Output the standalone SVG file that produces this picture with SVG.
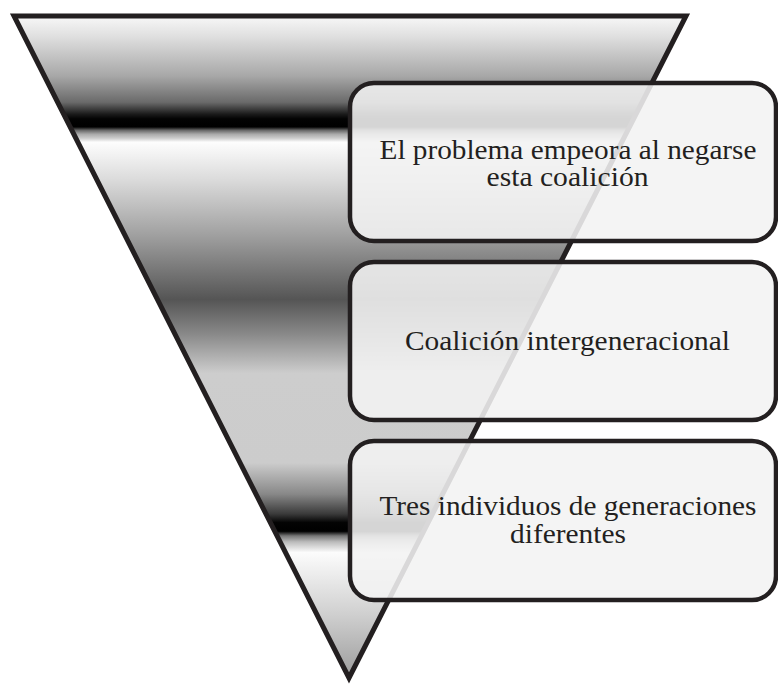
<svg xmlns="http://www.w3.org/2000/svg" width="778" height="684" viewBox="0 0 778 684">
<defs>
<linearGradient id="g" gradientUnits="userSpaceOnUse" x1="0" y1="16" x2="0" y2="680">
<stop offset="0" stop-color="#f8f8f8"/>
<stop offset="0.03" stop-color="#e0e0e0"/>
<stop offset="0.09" stop-color="#a8a8a8"/>
<stop offset="0.13" stop-color="#6a6a6a"/>
<stop offset="0.148" stop-color="#1a1a1a"/>
<stop offset="0.155" stop-color="#030303"/>
<stop offset="0.167" stop-color="#000"/>
<stop offset="0.172" stop-color="#666"/>
<stop offset="0.178" stop-color="#aaa"/>
<stop offset="0.184" stop-color="#ccc"/>
<stop offset="0.19" stop-color="#fdfdfd"/>
<stop offset="0.245" stop-color="#dcdcdc"/>
<stop offset="0.33" stop-color="#a0a0a0"/>
<stop offset="0.427" stop-color="#555"/>
<stop offset="0.48" stop-color="#8a8a8a"/>
<stop offset="0.538" stop-color="#cdcdcd"/>
<stop offset="0.673" stop-color="#cccccc"/>
<stop offset="0.72" stop-color="#888"/>
<stop offset="0.75" stop-color="#3a3a3a"/>
<stop offset="0.763" stop-color="#030303"/>
<stop offset="0.776" stop-color="#000"/>
<stop offset="0.783" stop-color="#777"/>
<stop offset="0.792" stop-color="#bbb"/>
<stop offset="0.808" stop-color="#fcfcfc"/>
<stop offset="0.9" stop-color="#d0d0d0"/>
<stop offset="1" stop-color="#9a9a9a"/>
</linearGradient>
<style>
.box{fill:#f2f2f2;fill-opacity:0.88;stroke:#231f20;stroke-width:4.5}
.t{font-family:"Liberation Serif","Times New Roman",serif;font-size:27px;fill:#231f20;text-anchor:middle}
</style>
</defs>
<g id="funnel">
<polygon points="14,16 686,16 349,678" fill="url(#g)" stroke="#231f20" stroke-width="5" stroke-linejoin="miter"/>
</g>
<g id="connectors"/>
<g id="node1">
<rect class="box" x="350" y="83" width="426" height="158" rx="24"/>
<text class="t" x="568" y="158.5" textLength="377" lengthAdjust="spacingAndGlyphs">El problema empeora al negarse</text>
<text class="t" x="567.5" y="185.5" textLength="162" lengthAdjust="spacingAndGlyphs">esta coalición</text>
</g>
<g id="node2">
<rect class="box" x="350" y="262" width="426" height="158" rx="24"/>
<text class="t" x="567.5" y="350" textLength="325" lengthAdjust="spacingAndGlyphs">Coalición intergeneracional</text>
</g>
<g id="node3">
<rect class="box" x="350" y="441" width="426" height="159" rx="24"/>
<text class="t" x="568" y="514.5" textLength="377" lengthAdjust="spacingAndGlyphs">Tres individuos de generaciones</text>
<text class="t" x="568" y="542.5" textLength="116" lengthAdjust="spacingAndGlyphs">diferentes</text>
</g>
</svg>
